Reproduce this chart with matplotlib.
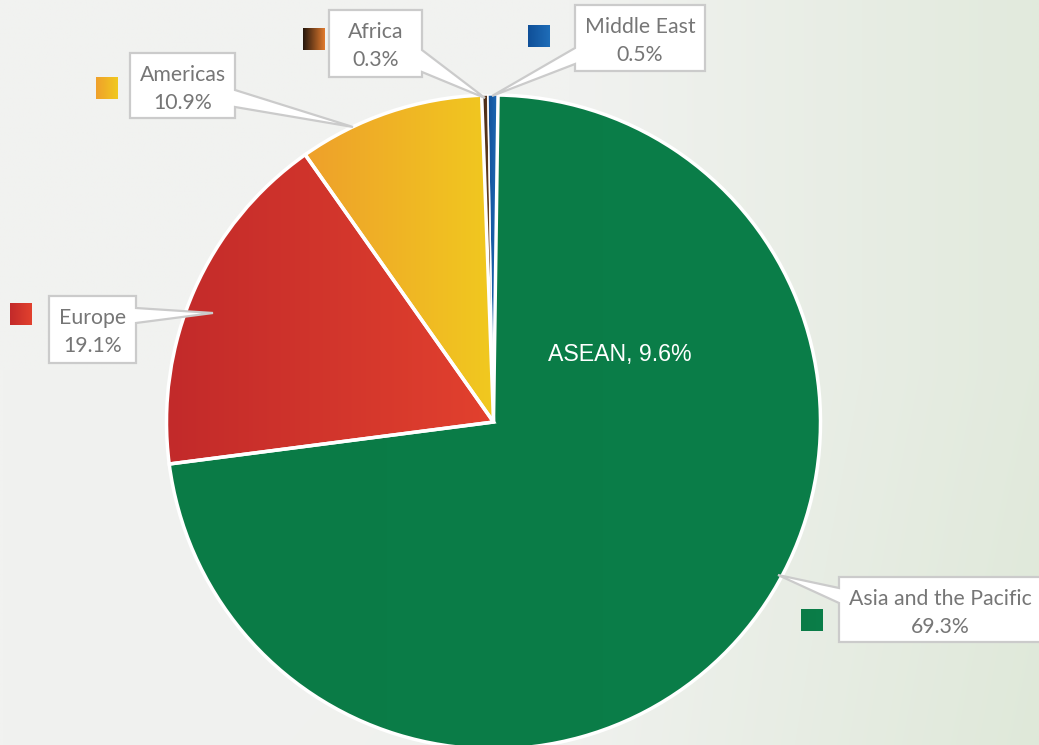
import matplotlib.pyplot as plt
import numpy as np
from matplotlib.colors import LinearSegmentedColormap
from matplotlib.patches import Polygon

W, H = 1039, 745

regions = ["Middle East", "Asia and the Pacific", "Europe", "Americas", "Africa"]
# slice sizes as they are drawn in the picture
shares = [0.5, 72.8, 17.3, 9.2, 0.3]
# percentages printed in the callouts
pct_labels = ["0.5%", "69.3%", "19.1%", "10.9%", "0.3%"]
inner_label = "ASEAN, 9.6%"

slice_colors = [
    ("#13519a", "#1f6db8"),
    ("#0a7b46", "#0b7e49"),
    ("#c22a2a", "#e2412e"),
    ("#eea02b", "#f1c91f"),
    ("#3a2213", "#8a5428"),
]
marker_colors = [
    ("#0f4f98", "#1f6db8"),
    ("#0a7b46", "#0b7e49"),
    ("#c22a2a", "#e2412e"),
    ("#efa02b", "#f1c91f"),
    ("#24160c", "#e27b2e"),
]

# callout layout in pixel coords (y downwards, as in the image)
callouts = {
    "Middle East": dict(box=(575, 5, 705, 71), side="left", base=(48, 64),
                        tip=(492, 96), marker=(528, 25)),
    "Asia and the Pacific": dict(box=(839, 577, 1041, 642), side="left",
                                 base=(588, 603), tip=(778, 575),
                                 marker=(801, 609)),
    "Europe": dict(box=(49, 296, 136, 363), side="right", base=(308, 323),
                   tip=(213, 313), marker=(10, 303)),
    "Americas": dict(box=(130, 53, 235, 118), side="right", base=(90, 107),
                     tip=(353, 127), marker=(96, 77)),
    "Africa": dict(box=(329, 10, 422, 77), side="right", base=(50, 72),
                   tip=(485, 98), marker=(303, 28)),
}

CENTER = (493.5, H - 422)
RADIUS = 327
TEXT_GRAY = "#767676"
BOX_EDGE = "#cbcbcb"


def grad_cmap(c0, c1):
    return LinearSegmentedColormap.from_list("g", [c0, c1])


def callout_polygon(box, side, base, tip):
    x0, y0, x1, y1 = box
    a, b = base
    if side == "right":
        pts = [(x0, y0), (x1, y0), (x1, a), tip, (x1, b), (x1, y1), (x0, y1)]
    elif side == "left":
        pts = [(x0, y0), (x1, y0), (x1, y1), (x0, y1), (x0, b), tip, (x0, a)]
    else:
        pts = [(x0, y0), (x1, y0), (x1, y1), (b, y1), tip, (a, y1), (x0, y1)]
    return [(x, H - y) for x, y in pts]


fig = plt.figure(figsize=(W / 100, H / 100), dpi=100)
ax = fig.add_axes([0, 0, 1, 1])

# background: pale paper with a greenish tint towards the right
xx, yy = np.meshgrid(np.linspace(0, 1, 200), np.linspace(0, 1, 150))
t = np.clip((xx - 0.55) / 0.45, 0, 1) * 0.8 + np.clip(yy - 0.5, 0, 1) * 0.3 * xx
t = np.clip(t, 0, 1)[..., None]
c_light = np.array([241, 242, 240]) / 255
c_green = np.array([222, 232, 216]) / 255
bg = c_light * (1 - t) + c_green * t
ax.imshow(bg, extent=(0, W, 0, H), origin="upper", aspect="auto",
          interpolation="bilinear", zorder=0)

wedges, _ = ax.pie(shares, center=CENTER, radius=RADIUS, startangle=91,
                   counterclock=False)

grad = np.linspace(0, 1, 256).reshape(1, -1)
for w, share, (c0, c1) in zip(wedges, shares, slice_colors):
    ext = w.get_path().get_extents()
    ax.imshow(grad, cmap=grad_cmap(c0, c1),
              extent=(ext.x0, ext.x1, ext.y0, ext.y1), aspect="auto",
              interpolation="bilinear", clip_path=w, zorder=2)
    w.set_facecolor("none")
    w.set_edgecolor("white")
    # thin slices get a thinner outline so they stay visible
    w.set_linewidth(2.5 if share > 1 else 1.0)
    w.set_zorder(3 if share > 1 else 3.5)

ax.text(620, H - 354, inner_label, color="white", fontsize=16.7,
        family="Liberation Sans", ha="center", va="center", zorder=4)

for name, pct, mc in zip(regions, pct_labels, marker_colors):
    lay = callouts[name]
    poly = Polygon(callout_polygon(lay["box"], lay["side"], lay["base"],
                                   lay["tip"]),
                   closed=True, facecolor="white", edgecolor=BOX_EDGE,
                   linewidth=1.6, joinstyle="miter", zorder=5)
    ax.add_patch(poly)
    x0, y0, x1, y1 = lay["box"]
    xc = (x0 + x1) / 2
    ax.text(xc, H - (y0 + 28), name, color=TEXT_GRAY, fontsize=15.3,
            family="Lato", ha="center", va="baseline", zorder=6)
    ax.text(xc, H - (y0 + 56), pct, color=TEXT_GRAY, fontsize=15.3,
            family="Lato", ha="center", va="baseline", zorder=6)

    mx, my = lay["marker"]
    ax.imshow(grad, cmap=grad_cmap(*mc),
              extent=(mx, mx + 22, H - my - 22, H - my), aspect="auto",
              interpolation="bilinear", zorder=6)

ax.set_xlim(0, W)
ax.set_ylim(0, H)
ax.axis("off")
fig.savefig("out.png", dpi=100)
